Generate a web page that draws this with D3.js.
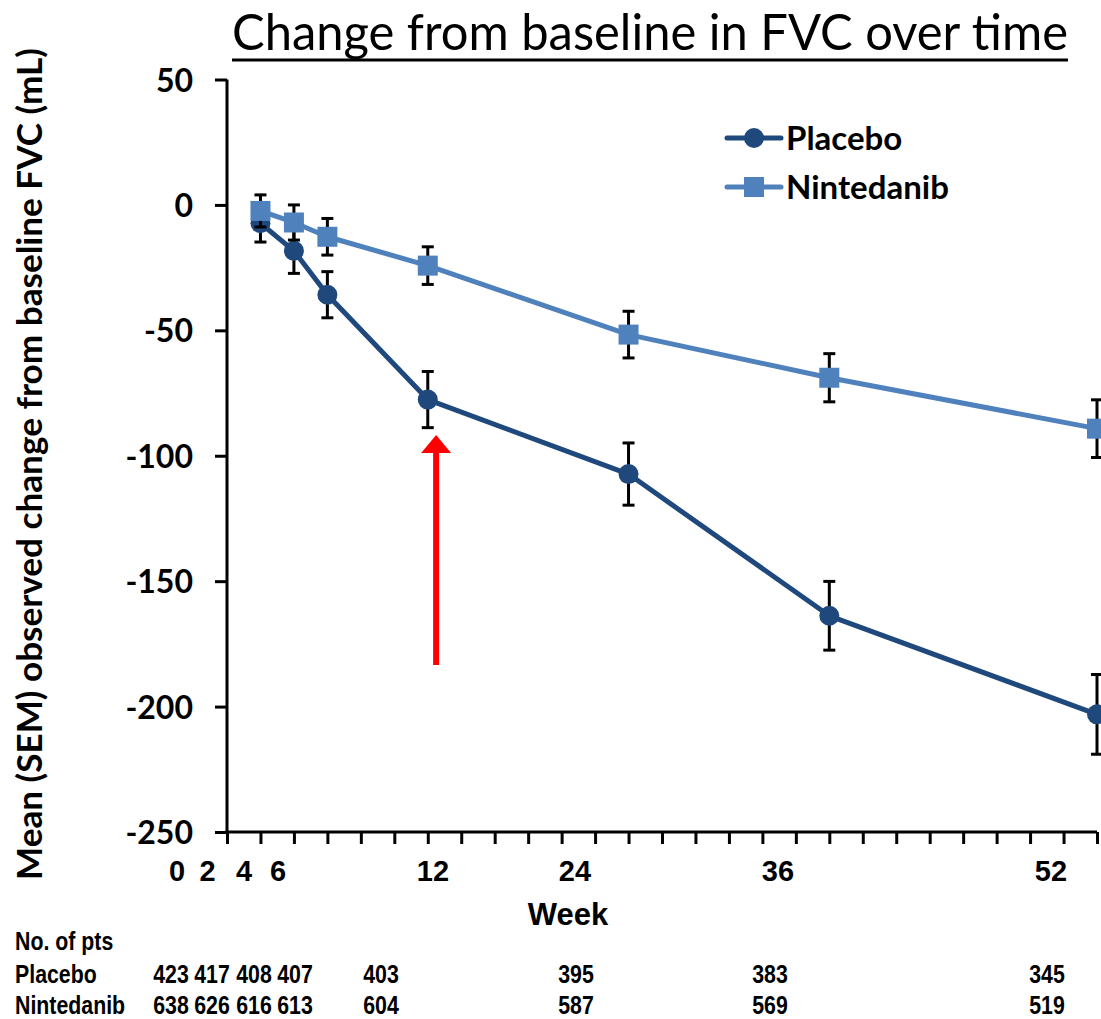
<!DOCTYPE html>
<html>
<head>
<meta charset="utf-8">
<script src="https://cdn.jsdelivr.net/npm/d3@7"></script>
<style>
  html, body { margin: 0; padding: 0; background: #fff; }
  svg { display: block; }
</style>
</head>
<body>
<div id="chart"></div>
<script>
// Visit weeks and mean (SEM) change from baseline in FVC, mL
const weeks = [2, 4, 6, 12, 24, 36, 52];
const placeboMean = [-7.3, -18.3, -35.8, -77.6, -107.3, -163.8, -203.1];
const placeboSem = [7.5, 9.0, 9.2, 11.2, 12.4, 13.7, 15.9];
const nintedanibMean = [-2.4, -7.0, -12.7, -24.2, -51.7, -68.9, -89.2];
const nintedanibSem = [6.4, 7.0, 7.3, 7.5, 9.3, 9.6, 11.5];

// Tick labels
const yTicks = [50, 0, -50, -100, -150, -200, -250];
const xTickLabels = ["0", "2", "4", "6", "12", "24", "36", "52"];

// Number of patients at each visit
const countRows = ["Placebo", "Nintedanib"];
const placeboN = [423, 417, 408, 407, 403, 395, 383, 345];
const nintedanibN = [638, 626, 616, 613, 604, 587, 569, 519];

const W = 1101, H = 1019;
const colors = { Placebo: "#1F497D", Nintedanib: "#4F81BD" };

const svg = d3.select("#chart").append("svg")
  .attr("width", W).attr("height", H)
  .attr("viewBox", `0 0 ${W} ${H}`);
svg.append("rect").attr("width", W).attr("height", H).attr("fill", "#fff");

const x = d3.scaleLinear().domain([0, 52]).range([227, 1097]);
const y = d3.scaleLinear().domain([-250, 50]).range([832, 79.5]);

// Title
svg.append("text")
  .attr("x", 650).attr("y", 50)
  .attr("text-anchor", "middle")
  .attr("font-family", "Lato, 'Open Sans', sans-serif")
  .attr("font-size", 50)
  .attr("textLength", 836).attr("lengthAdjust", "spacingAndGlyphs")
  .attr("fill", "#000")
  .text("Change from baseline in FVC over time");
svg.append("line")
  .attr("x1", 232).attr("x2", 1068).attr("y1", 60).attr("y2", 60)
  .attr("stroke", "#000").attr("stroke-width", 3);

// Y axis
const yAxis = d3.axisLeft(y).tickValues(yTicks).tickSize(12).tickPadding(22)
  .tickFormat(d => String(d));
const gy = svg.append("g").attr("transform", `translate(${x(0)},0)`).call(yAxis);
gy.select(".domain").attr("stroke", "#000").attr("stroke-width", 3)
  .attr("d", `M0,${y(50)}V${y(-250)}`);
gy.selectAll(".tick line").attr("stroke", "#000").attr("stroke-width", 3);
gy.selectAll(".tick text")
  .attr("font-family", "Lato, sans-serif").attr("font-weight", "bold")
  .attr("font-size", 32).attr("fill", "#000").attr("dy", "0.36em");

// X axis: a tick every two weeks
const xAxis = d3.axisBottom(x).tickValues(d3.range(0, 53, 2)).tickSize(12).tickFormat("");
const gx = svg.append("g").attr("transform", `translate(0,${y(-250)})`).call(xAxis);
gx.select(".domain").attr("stroke", "#000").attr("stroke-width", 3)
  .attr("d", `M${x(0) - 1.5},0H${x(52)}`);
gx.selectAll(".tick line").attr("stroke", "#000").attr("stroke-width", 3);

// Week labels sit in their own text row under the axis
const xLabelX = [177, 207.5, 244, 278, 433, 575, 778, 1051];
svg.append("g").selectAll("text").data(xTickLabels).join("text")
  .attr("x", (d, i) => xLabelX[i]).attr("y", 881)
  .attr("text-anchor", "middle")
  .attr("font-family", "'Liberation Sans', Arial, sans-serif").attr("font-weight", "bold")
  .attr("font-size", 29).attr("fill", "#000")
  .text(d => d);

svg.append("text")
  .attr("x", 568).attr("y", 925).attr("text-anchor", "middle")
  .attr("font-family", "'Liberation Sans', Arial, sans-serif").attr("font-weight", "bold")
  .attr("font-size", 31).attr("fill", "#000")
  .text("Week");

// Y axis title
svg.append("text")
  .attr("transform", "translate(42,464) rotate(-90)")
  .attr("text-anchor", "middle")
  .attr("font-family", "Lato, sans-serif").attr("font-weight", "bold")
  .attr("font-size", 35)
  .attr("textLength", 832).attr("lengthAdjust", "spacingAndGlyphs")
  .attr("fill", "#000")
  .text("Mean (SEM) observed change from baseline FVC (mL)");

// Series
const series = [
  { name: "Placebo", mean: placeboMean, sem: placeboSem, shape: "circle" },
  { name: "Nintedanib", mean: nintedanibMean, sem: nintedanibSem, shape: "square" }
];

const line = d3.line().x(d => x(d.week)).y(d => y(d.mean));

series.forEach(s => {
  const pts = weeks.map((w, i) => ({ week: w, mean: s.mean[i], sem: s.sem[i] }));
  const g = svg.append("g");

  // SEM error bars
  const eb = g.append("g").selectAll("g").data(pts).join("g")
    .attr("stroke", "#000").attr("stroke-width", 3);
  eb.append("line")
    .attr("x1", d => x(d.week)).attr("x2", d => x(d.week))
    .attr("y1", d => y(d.mean + d.sem)).attr("y2", d => y(d.mean - d.sem));
  eb.append("line")
    .attr("x1", d => x(d.week) - 6).attr("x2", d => x(d.week) + 6)
    .attr("y1", d => y(d.mean + d.sem)).attr("y2", d => y(d.mean + d.sem));
  eb.append("line")
    .attr("x1", d => x(d.week) - 6).attr("x2", d => x(d.week) + 6)
    .attr("y1", d => y(d.mean - d.sem)).attr("y2", d => y(d.mean - d.sem));

  g.append("path").datum(pts)
    .attr("fill", "none").attr("stroke", colors[s.name]).attr("stroke-width", 5)
    .attr("stroke-linejoin", "round")
    .attr("d", line);

  const sym = d3.symbol().type(s.shape === "circle" ? d3.symbolCircle : d3.symbolSquare)
    .size(s.shape === "circle" ? Math.PI * 100 : 400);
  g.append("g").selectAll("path").data(pts).join("path")
    .attr("transform", d => `translate(${x(d.week)},${y(d.mean)})`)
    .attr("d", sym)
    .attr("fill", colors[s.name]);
});

// Red arrow marking week 12
const arrowX = x(12.5), arrowTip = y(-91.7), arrowBase = y(-183.4);
svg.append("line")
  .attr("x1", arrowX).attr("x2", arrowX)
  .attr("y1", arrowBase).attr("y2", arrowTip + 16)
  .attr("stroke", "#FF0000").attr("stroke-width", 6);
svg.append("path")
  .attr("d", `M${arrowX},${arrowTip}L${arrowX + 15},${arrowTip + 18}L${arrowX - 15},${arrowTip + 18}Z`)
  .attr("fill", "#FF0000");

// Legend
const legend = svg.append("g");
series.forEach((s, i) => {
  const ly = 138 + i * 49;
  legend.append("line")
    .attr("x1", 727).attr("x2", 781).attr("y1", ly).attr("y2", ly)
    .attr("stroke", colors[s.name]).attr("stroke-width", 5).attr("stroke-linecap", "round");
  const sym = d3.symbol().type(s.shape === "circle" ? d3.symbolCircle : d3.symbolSquare)
    .size(s.shape === "circle" ? Math.PI * 100 : 400);
  legend.append("path").attr("transform", `translate(754,${ly})`).attr("d", sym)
    .attr("fill", colors[s.name]);
  legend.append("text")
    .attr("x", 786).attr("y", ly + 12)
    .attr("font-family", "Lato, sans-serif").attr("font-weight", "bold")
    .attr("font-size", 33).attr("fill", "#000")
    .text(s.name);
});

// Patients-at-risk table
const countColX = [171, 212, 254, 295, 381, 576, 770, 1047];
const tableFont = "'Liberation Sans', Arial, sans-serif";
function narrowText(parent, tx, ty, str, anchor) {
  parent.append("text")
    .attr("transform", `translate(${tx},${ty}) scale(0.82,1)`)
    .attr("text-anchor", anchor)
    .attr("font-family", tableFont).attr("font-weight", "bold")
    .attr("font-size", 26).attr("fill", "#000")
    .text(str);
}
const table = svg.append("g");
narrowText(table, 15, 950, "No. of pts", "start");
[placeboN, nintedanibN].forEach((row, r) => {
  const ty = 983 + r * 31;
  narrowText(table, 15, ty, countRows[r], "start");
  row.forEach((n, i) => narrowText(table, countColX[i], ty, String(n), "middle"));
});
</script>
</body>
</html>
